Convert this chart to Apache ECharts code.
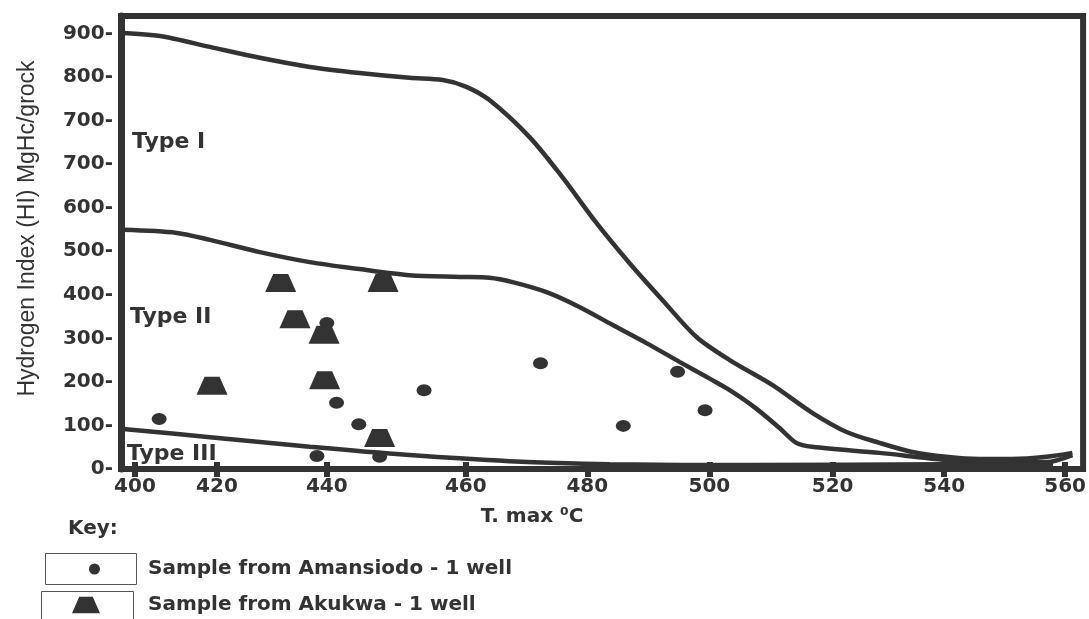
<!DOCTYPE html>
<html>
<head>
<meta charset="utf-8">
<title>Hydrogen Index vs Tmax</title>
<script src="https://cdn.jsdelivr.net/npm/echarts@6/dist/echarts.min.js"></script>
<style>
  html, body { margin: 0; padding: 0; background: #fff; }
  #chart { width: 1089px; height: 619px; }
</style>
</head>
<body>
<div id="chart"></div>
<script>
// x ticks (Tmax, deg C) and where each one sits on the uneven scale of the original
const xTicks = [400, 420, 440, 460, 480, 500, 520, 540, 560];
const xTickAt = [400, 414.1, 433.0, 456.9, 477.8, 498.8, 520.0, 539.2, 560];
// y tick labels as printed (the original repeats 700)
const yLabels = ['0', '100', '200', '300', '400', '500', '600', '700', '700', '800', '900'];

// boundary curves
const typeITmax = [397.1, 406.1, 418.3, 427.8, 436.9, 444.7, 451.9, 456.7, 460.0, 463.9, 470.5, 475.9, 481.5, 486.9, 492.3, 497.9, 503.3, 510.2, 516.7, 522.5, 528.4, 534.3, 540.3, 545.8, 551.2, 556.9, 561.2];
const typeIHi = [1001, 994, 969, 944, 923, 909, 898, 893, 878, 847, 762, 670, 565, 473, 388, 303, 250, 193, 129, 85, 60, 39, 28, 23, 23, 28, 37];
const typeIITmax = [397.1, 410.2, 418.3, 427.8, 436.9, 444.7, 451.9, 459.1, 463.9, 467.7, 473.3, 478.7, 484.1, 489.7, 495.1, 500.5, 503.3, 507.3, 511.4, 514.1, 516.7, 528.4, 540.3, 549.1, 556.9, 561.2];
const typeIIHi = [549, 542, 526, 498, 475, 459, 445, 441, 439, 429, 406, 372, 331, 289, 246, 204, 181, 142, 94, 60, 51, 37, 21, 16, 16, 32];
const typeIIITmax = [397.1, 418.3, 436.9, 451.9, 467.2, 483.6, 506.5, 540.0, 558.0];
const typeIIIHi = [92, 73, 51, 32, 18, 11, 9, 11, 12];

// samples
const amansiodoTmax = [405.9, 440.0, 441.4, 444.6, 438.2, 447.6, 454.0, 472.3, 494.8, 499.3, 485.9];
const amansiodoHi = [115, 335, 152, 103, 30, 28, 181, 243, 223, 135, 99];
const akukwaTmax = [431.6, 448.1, 434.2, 439.5, 439.6, 418.8, 447.6];
const akukwaHi = [427, 427, 344, 308, 204, 191, 71];

const ink = '#333';
const trapezoid = 'path://M8,0 L23,0 L31,18 L0,18 Z';

// piecewise map from Tmax to the drawn axis
function warp(t) {
  let i = 0;
  while (i < xTicks.length - 2 && t > xTicks[i + 1]) i++;
  const f = (t - xTicks[i]) / (xTicks[i + 1] - xTicks[i]);
  return xTickAt[i] + f * (xTickAt[i + 1] - xTickAt[i]);
}
function pairs(xs, ys) {
  return xs.map((x, i) => [warp(x), ys[i]]);
}
function xLabel(v) {
  const i = xTickAt.findIndex(p => Math.abs(p - v) < 0.01);
  return i < 0 ? '' : String(xTicks[i]);
}

const boldText = { fontFamily: 'DejaVu Sans', fontWeight: 'bold', fontSize: 20, color: ink };
const xMin = 397.594;
const xMax = 563.09;

const chart = echarts.init(document.getElementById('chart'));
chart.setOption({
  animation: false,
  backgroundColor: '#fff',
  grid: {
    left: 121, top: 16, right: 5, bottom: 150,
    show: true, borderWidth: 6, borderColor: ink
  },
  legend: [{
    data: ['Sample from Amansiodo - 1 well'],
    left: 84, top: 554, itemWidth: 13, itemHeight: 11,
    textStyle: Object.assign({}, boldText, { padding: [0, 0, 0, 42] })
  }, {
    data: ['Sample from Akukwa - 1 well'],
    left: 67, top: 590, itemWidth: 28, itemHeight: 17,
    textStyle: Object.assign({}, boldText, { padding: [0, 0, 0, 43] })
  }],
  xAxis: [{
    type: 'value',
    min: xMin, max: xMax,
    position: 'bottom',
    name: 'T. max \u2070C',
    nameLocation: 'middle',
    nameGap: 38,
    nameTextStyle: Object.assign({}, boldText, { padding: [0, 140, 0, 0] }),
    axisLine: { show: true, onZero: false, lineStyle: { color: ink, width: 5 } },
    axisTick: { show: true, customValues: xTickAt, length: 8, lineStyle: { color: ink, width: 6 } },
    axisLabel: Object.assign({}, boldText, { customValues: xTickAt, formatter: xLabel, margin: 8 }),
    splitLine: { show: false }
  }, {
    type: 'value',
    min: xMin, max: xMax,
    position: 'top',
    offset: -453,
    axisLine: { show: false, onZero: false },
    axisTick: { show: true, customValues: xTickAt, length: 7, lineStyle: { color: ink, width: 6 } },
    axisLabel: { show: false },
    splitLine: { show: false }
  }],
  yAxis: {
    type: 'value',
    min: 0, max: 1040, interval: 100,
    name: 'Hydrogen Index (HI) MgHc/grock',
    nameLocation: 'middle',
    nameGap: 82,
    nameTextStyle: { fontFamily: 'Liberation Sans', fontSize: 23, color: ink, padding: [0, 0, 0, 28] },
    axisLine: { show: true, lineStyle: { color: ink, width: 7 } },
    axisTick: { show: false },
    axisLabel: Object.assign({}, boldText, {
      margin: 8,
      showMaxLabel: false,
      padding: [10, 0, 0, 0],
      formatter: v => {
        const i = Math.round(v / 100);
        return (Math.abs(v - i * 100) < 0.5 && i < yLabels.length) ? yLabels[i] + '-' : '';
      }
    }),
    splitLine: { show: false }
  },
  series: [{
    name: 'Type I',
    type: 'line',
    data: pairs(typeITmax, typeIHi),
    smooth: 0.3,
    symbol: 'none',
    lineStyle: { color: ink, width: 4.5 }
  }, {
    name: 'Type II',
    type: 'line',
    data: pairs(typeIITmax, typeIIHi),
    smooth: 0.3,
    symbol: 'none',
    lineStyle: { color: ink, width: 4.5 }
  }, {
    name: 'Type III',
    type: 'line',
    data: pairs(typeIIITmax, typeIIIHi),
    smooth: 0.3,
    symbol: 'none',
    lineStyle: { color: ink, width: 4.5 }
  }, {
    name: 'Sample from Amansiodo - 1 well',
    type: 'scatter',
    data: pairs(amansiodoTmax, amansiodoHi),
    symbol: 'circle',
    symbolSize: [15, 12],
    itemStyle: { color: ink, opacity: 1 }
  }, {
    name: 'Sample from Akukwa - 1 well',
    type: 'scatter',
    data: pairs(akukwaTmax, akukwaHi),
    symbol: trapezoid,
    symbolSize: [31, 18],
    itemStyle: { color: ink, opacity: 1 }
  }],
  graphic: [
    { type: 'text', left: 132, top: 131, style: { text: 'Type I', font: 'bold 22px "DejaVu Sans"', fill: ink } },
    { type: 'text', left: 130, top: 306, style: { text: 'Type II', font: 'bold 22px "DejaVu Sans"', fill: ink } },
    { type: 'text', left: 127, top: 443, style: { text: 'Type III', font: 'bold 22px "DejaVu Sans"', fill: ink } },
    { type: 'text', left: 68, top: 519, style: { text: 'Key:', font: 'bold 20px "DejaVu Sans"', fill: ink } },
    { type: 'rect', shape: { x: 45.5, y: 553.5, width: 91, height: 31 }, style: { fill: 'none', stroke: '#555', lineWidth: 1 } },
    { type: 'rect', shape: { x: 41.5, y: 591.5, width: 92, height: 40 }, style: { fill: 'none', stroke: '#555', lineWidth: 1 } }
  ]
});
</script>
</body>
</html>
